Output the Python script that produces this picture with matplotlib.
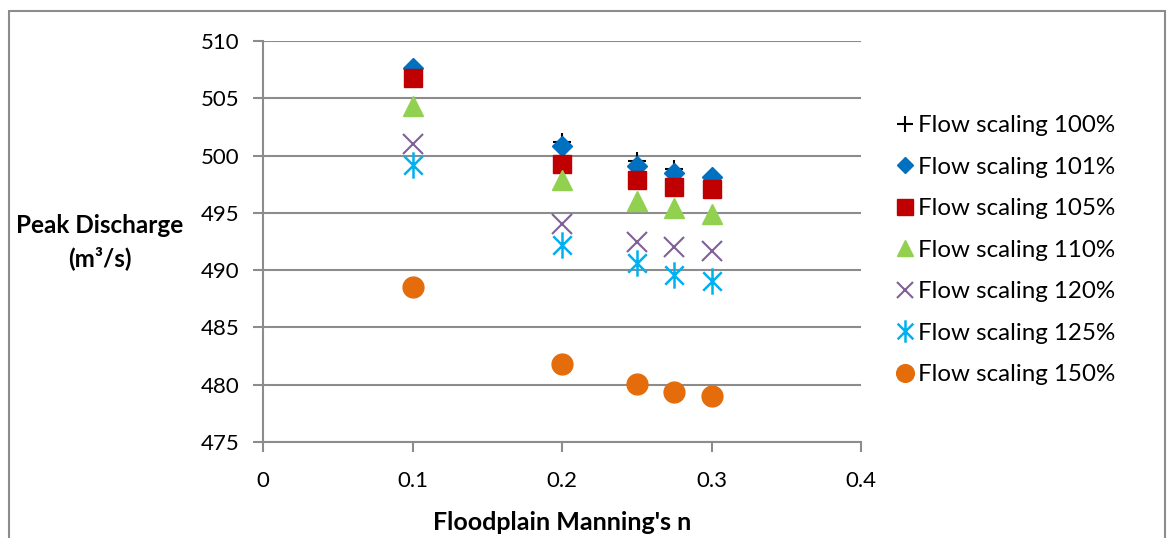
import numpy as np
import matplotlib.pyplot as plt
from matplotlib.path import Path
from matplotlib.patches import Rectangle

manning_n = [0.1, 0.2, 0.25, 0.275, 0.3]

q_100 = [507.6, 501.2, 499.5, 498.8, 498.0]
q_101 = [507.6, 500.8, 499.1, 498.5, 498.1]
q_105 = [506.8, 499.3, 497.9, 497.3, 497.1]
q_110 = [504.3, 497.9, 496.0, 495.4, 494.9]
q_120 = [501.0, 494.0, 492.5, 492.0, 491.7]
q_125 = [499.2, 492.2, 490.65, 489.55, 489.05]
q_150 = [488.5, 481.8, 480.1, 479.4, 479.0]

labels = ["Flow scaling 100%", "Flow scaling 101%", "Flow scaling 105%",
          "Flow scaling 110%", "Flow scaling 120%", "Flow scaling 125%",
          "Flow scaling 150%"]

x_ticks = [0, 0.1, 0.2, 0.3, 0.4]
y_ticks = [475, 480, 485, 490, 495, 500, 505, 510]

# asterisk like excel: X plus vertical bar
star = Path([(0, -1), (0, 1), (-0.7, -0.7), (0.7, 0.7), (-0.7, 0.7), (0.7, -0.7)],
            [Path.MOVETO, Path.LINETO, Path.MOVETO, Path.LINETO, Path.MOVETO, Path.LINETO])

plt.rcParams['font.family'] = ['Lato', 'DejaVu Sans']

fig = plt.figure(figsize=(11.68, 5.38), dpi=100)
ax = fig.add_axes([263 / 1168, 96 / 538, 598 / 1168, 401 / 538])

# chart border
fig.patches.append(Rectangle((9 / 1168, -0.1), 1156 / 1168, 1.1 - 11 / 538,
                             transform=fig.transFigure, fill=False,
                             edgecolor="#8c8c8c", linewidth=1.5))

ax.plot(manning_n, q_100, linestyle="none", marker="+", color="black",
        markersize=13, markeredgewidth=1.5, label=labels[0], zorder=3)
ax.plot(manning_n, q_101, linestyle="none", marker="D", color="#0070C0",
        markersize=10, label=labels[1], zorder=3)
ax.plot(manning_n, q_105, linestyle="none", marker="s", color="#C00000",
        markersize=13, label=labels[2], zorder=3)
ax.plot(manning_n, q_110, linestyle="none", marker="^", color="#92D050",
        markersize=14, label=labels[3], zorder=3)
ax.plot(manning_n, q_120, linestyle="none", marker="x", color="#7F6098",
        markersize=14, markeredgewidth=1.5, label=labels[4], zorder=3)
ax.plot(manning_n, q_125, linestyle="none", marker=star, color="#00B0F0",
        markersize=19, markeredgewidth=1.8, label=labels[5], zorder=3)
ax.plot(manning_n, q_150, linestyle="none", marker="o", color="#E46C0A",
        markersize=15, label=labels[6], zorder=3)

ax.set_xlim(0, 0.4)
ax.set_ylim(475, 510)
ax.set_xticks(x_ticks)
ax.set_xticklabels(["0", "0.1", "0.2", "0.3", "0.4"])
ax.set_yticks(y_ticks)
ax.grid(axis="y", color="#8c8c8c", linewidth=1.5)
ax.set_axisbelow(True)

for s in ["top", "right"]:
    ax.spines[s].set_visible(False)
for s in ["left", "bottom"]:
    ax.spines[s].set_color("#8c8c8c")
    ax.spines[s].set_linewidth(1.5)
ax.tick_params(axis="both", colors="#8c8c8c", width=1.5, length=7,
               labelcolor="black", labelsize=16)
ax.tick_params(axis="x", pad=14)
ax.tick_params(axis="y", pad=10)

ax.set_xlabel("Floodplain Manning's n", fontsize=18, fontweight="bold", labelpad=14)
fig.text(100 / 1168, 1 - 242 / 538, "Peak Discharge\n(m\u00b3/s)", fontsize=17.5,
         fontweight="bold", ha="center", va="center", linespacing=1.5)

ax.legend(loc="upper left", bbox_to_anchor=(1.033, 0.845), frameon=False,
          fontsize=17.4, handletextpad=0.05, labelspacing=0.85, borderpad=0,
          markerscale=0.85, handlelength=1.0)

plt.savefig("out.png", dpi=100)
